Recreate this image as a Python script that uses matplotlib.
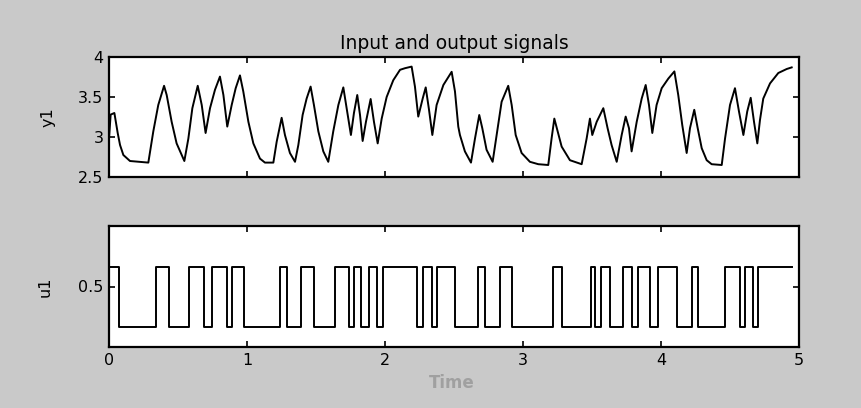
import matplotlib
matplotlib.use("Agg")
import matplotlib.pyplot as plt

# Output signal y1: sampled vertices (time, value)
y1_t = [0.000, 0.012, 0.039, 0.063, 0.080, 0.104, 0.152, 0.285, 0.321, 0.357,
        0.399, 0.418, 0.454, 0.490, 0.546, 0.575, 0.604, 0.643, 0.672, 0.700,
        0.732, 0.768, 0.804, 0.829, 0.857, 0.889, 0.918, 0.949, 0.973, 1.010,
        1.046, 1.094, 1.130, 1.191, 1.215, 1.251, 1.275, 1.311, 1.348, 1.372,
        1.403, 1.432, 1.461, 1.485, 1.517, 1.553, 1.589, 1.625, 1.662, 1.698,
        1.722, 1.753, 1.775, 1.799, 1.819, 1.838, 1.862, 1.896, 1.920, 1.947,
        1.976, 2.012, 2.060, 2.109, 2.145, 2.193, 2.217, 2.241, 2.273, 2.295,
        2.319, 2.343, 2.374, 2.423, 2.483, 2.507, 2.531, 2.543, 2.579, 2.623,
        2.652, 2.683, 2.705, 2.736, 2.780, 2.809, 2.845, 2.893, 2.918, 2.947,
        2.990, 3.050, 3.111, 3.183, 3.207, 3.227, 3.251, 3.280, 3.340, 3.425,
        3.461, 3.485, 3.502, 3.534, 3.582, 3.613, 3.642, 3.679, 3.715, 3.744,
        3.768, 3.787, 3.824, 3.860, 3.889, 3.913, 3.937, 3.968, 4.005, 4.053,
        4.097, 4.125, 4.154, 4.186, 4.210, 4.241, 4.266, 4.295, 4.331, 4.367,
        4.440, 4.464, 4.500, 4.536, 4.565, 4.597, 4.625, 4.650, 4.674, 4.698,
        4.717, 4.741, 4.790, 4.850, 4.911, 4.947]
y1_v = [2.98, 3.28, 3.30, 3.05, 2.90, 2.775, 2.70, 2.68, 3.07, 3.40,
        3.64, 3.525, 3.19, 2.92, 2.70, 2.98, 3.36, 3.64, 3.40, 3.05,
        3.36, 3.59, 3.755, 3.525, 3.13, 3.40, 3.61, 3.77, 3.57, 3.19,
        2.92, 2.73, 2.68, 2.68, 2.94, 3.24, 3.025, 2.80, 2.69, 2.90,
        3.275, 3.48, 3.63, 3.40, 3.07, 2.82, 2.69, 3.07, 3.40, 3.62,
        3.36, 3.025, 3.30, 3.525, 3.275, 2.95, 3.19, 3.475, 3.19, 2.92,
        3.23, 3.50, 3.71, 3.84, 3.86, 3.88, 3.63, 3.255, 3.48, 3.62,
        3.34, 3.025, 3.40, 3.65, 3.815, 3.57, 3.13, 3.025, 2.82, 2.68,
        2.98, 3.275, 3.11, 2.84, 2.69, 3.025, 3.44, 3.64, 3.40, 3.025,
        2.80, 2.69, 2.66, 2.65, 2.98, 3.23, 3.07, 2.88, 2.71, 2.66,
        2.98, 3.23, 3.025, 3.19, 3.36, 3.11, 2.90, 2.69, 3.025, 3.255,
        3.11, 2.82, 3.19, 3.48, 3.65, 3.40, 3.05, 3.40, 3.61, 3.73,
        3.82, 3.525, 3.15, 2.80, 3.11, 3.34, 3.11, 2.86, 2.71, 2.66,
        2.65, 2.98, 3.40, 3.61, 3.32, 3.025, 3.32, 3.49, 3.19, 2.92,
        3.21, 3.48, 3.67, 3.80, 3.85, 3.87]

# Input signal u1: binary levels and switching instants
u_high = 0.66
u_low = 0.165
u_switch = [0.072, 0.339, 0.435, 0.582, 0.691, 0.744, 0.857, 0.893, 0.980, 1.239,
            1.288, 1.389, 1.486, 1.638, 1.741, 1.775, 1.826, 1.886, 1.940, 1.988,
            2.230, 2.278, 2.338, 2.375, 2.507, 2.672, 2.725, 2.833, 2.918, 3.220,
            3.280, 3.490, 3.522, 3.565, 3.630, 3.727, 3.788, 3.836, 3.920, 3.980,
            4.113, 4.222, 4.270, 4.464, 4.572, 4.609, 4.665, 4.705]
u_start, u_end = 0.0, 4.95

x_ticks = [0, 1, 2, 3, 4, 5]
x_ticklabels = ["0", "1", "2", "3", "4", "5"]
y1_ticks = [2.5, 3.0, 3.5, 4.0]
y1_ticklabels = ["2.5", "3", "3.5", "4"]
u1_ticks = [0.5]
u1_ticklabels = ["0.5"]

# build the step sequence of u1
u_t = [u_start] + u_switch + [u_end]
u_v = []
level = u_high
for _ in range(len(u_switch) + 1):
    u_v.append(level)
    level = u_low if level == u_high else u_high
u_v.append(u_v[-1])

plt.rcParams["font.family"] = ["DejaVu Sans"]

W, H = 861, 408
fig = plt.figure(figsize=(W / 100, H / 100), dpi=100)
fig.patch.set_facecolor("#c9c9c9")

def px_rect(x0, y0, x1, y1):
    return [x0 / W, 1 - y1 / H, (x1 - x0) / W, (y1 - y0) / H]

ax1 = fig.add_axes(px_rect(109, 57, 799, 177))
ax2 = fig.add_axes(px_rect(109, 226, 799, 347))

for ax in (ax1, ax2):
    ax.set_facecolor("white")
    for s in ax.spines.values():
        s.set_linewidth(1.6)
        s.set_color("black")
    ax.tick_params(direction="in", length=4, width=1.2, top=True, right=True,
                   labelsize=11.5, colors="black", pad=4)
    ax.set_xlim(0, 5)
    ax.set_xticks(x_ticks)

ax1.plot(y1_t, y1_v, color="black", lw=1.4)
ax1.set_ylim(2.5, 4.0)
ax1.set_yticks(y1_ticks)
ax1.set_yticklabels(y1_ticklabels)
ax1.set_xticklabels([])
ax1.set_title("Input and output signals", fontsize=13.5, pad=6)

ax2.step(u_t, u_v, where="post", color="black", lw=1.4)
ax2.set_ylim(0, 1)
ax2.set_yticks(u1_ticks)
ax2.set_yticklabels(u1_ticklabels)
ax2.set_xticklabels(x_ticklabels)

fig.text(48 / W, 1 - 117 / H, "y1", rotation=90, ha="center", va="center", fontsize=11.5)
fig.text(45 / W, 1 - 287 / H, "u1", rotation=90, ha="center", va="center", fontsize=11.5)
fig.text(452 / W, 1 - 383 / H, "Time", ha="center", va="center", fontsize=12,
         color="#a0a0a0", fontweight="bold")

fig.savefig("out.png", dpi=100, facecolor=fig.get_facecolor())
